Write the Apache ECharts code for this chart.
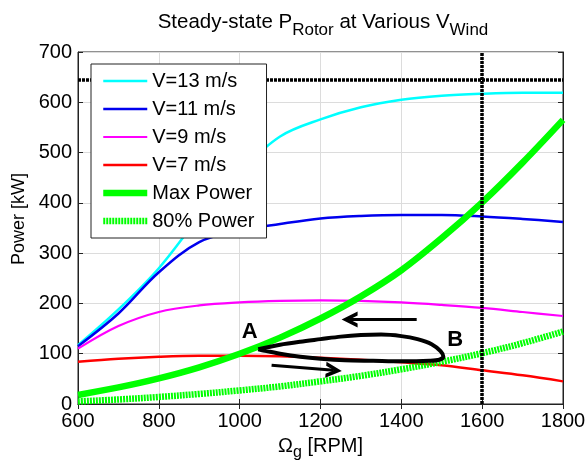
<!DOCTYPE html>
<html>
<head>
<meta charset="utf-8">
<script src="https://cdn.jsdelivr.net/npm/echarts@6/dist/echarts.min.js"></script>
<style>
  html, body { margin: 0; padding: 0; background: #fff; }
  #chart { width: 587px; height: 463px; }
</style>
</head>
<body>
<div id="chart"></div>
<script>
// rotor speed samples [RPM]
const rpm = [600, 700, 800, 900, 1000, 1100, 1200, 1300, 1400, 1500, 1600, 1700, 1800];

// steady-state rotor power [kW] per wind speed
const v13 = [117, 188, 270, 372, 462, 532, 566, 590, 605, 613, 617, 619, 619];
const v11 = [115, 180, 262, 322, 345, 358, 369, 374, 376, 376, 373, 368, 362];
const v9 = [110, 155, 183, 196, 202, 205, 206, 205, 202, 197, 191, 183, 175];
const v7 = [84, 90, 94, 96, 96, 95, 92, 88, 83, 77, 67, 57, 45];
const maxPower = [18, 33, 51, 73, 100, 132, 170, 214, 266, 330, 401, 480, 565];
const power80 = [5, 9, 14, 20, 27, 35, 45, 56, 69, 84, 101, 121, 144];

// limits
const powerLimit = 645;
const speedLimit = 1600;

// operating loop A -> B -> A
const loopRpm = [1046, 1100, 1150, 1200, 1250, 1300, 1350, 1400, 1440, 1475, 1497, 1504, 1494, 1470, 1400, 1330, 1260, 1200, 1150, 1100, 1062, 1046];
const loopKw = [109, 118, 124, 129, 134, 137, 138, 135, 129, 119, 105, 94, 88, 86, 85, 86, 87, 90, 94, 100, 106, 109];

// direction arrows [[x0, y0], [x1, y1]]
const arrowBack = [[1438, 168], [1272, 168]];
const arrowFwd = [[1079, 77], [1233, 67]];

// point labels
const pointLabels = [
    { name: 'A', value: [1025, 144] },
    { name: 'B', value: [1533, 127] },
];

const FONT = 'Liberation Sans, Arial, sans-serif';
// open arrow head, tip pointing up in its own frame
const CHEVRON = 'path://M10,0 L20,12 L15,12 L10,6 L5,12 L0,12 Z';

const zip = (xs, ys) => xs.map((x, i) => [x, ys[i]]);

function curve(name, values, color, width, dash) {
    return {
        name,
        type: 'line',
        data: zip(rpm, values),
        smooth: 0.35,
        symbol: 'none',
        lineStyle: { color, width, type: dash || 'solid', cap: 'butt' },
        itemStyle: { color },
        z: 3,
    };
}

const sub = (size, drop) => ({ fontSize: size, fontFamily: FONT, fontWeight: 'normal', color: '#000', padding: [drop * 2, 0, 0, 0] });
const txt = size => ({ fontSize: size, fontFamily: FONT, fontWeight: 'normal', color: '#000' });

const chart = echarts.init(document.getElementById('chart'), null, { renderer: 'canvas' });

chart.setOption({
    backgroundColor: '#fff',
    animation: false,
    textStyle: { fontFamily: FONT, color: '#000' },
    title: {
        text: '{n|Steady-state P}{s|Rotor}{n| at Various V}{s|Wind}',
        left: 318,
        top: 1,
        textAlign: 'center',
        textStyle: { fontWeight: 'normal', rich: { n: txt(20.5), s: sub(17, 8) } },
    },
    legend: {
        data: ['V=13 m/s', 'V=11 m/s', 'V=9 m/s', 'V=7 m/s', 'Max Power', '80% Power'],
        orient: 'vertical',
        left: 91,
        top: 64,
        padding: [7, 12, 7, 9],
        itemWidth: 44,
        itemHeight: 14,
        itemGap: 8,
        itemStyle: { opacity: 0 },
        lineStyle: { width: 'inherit' },
        backgroundColor: '#fff',
        borderColor: '#222',
        borderWidth: 1,
        textStyle: { fontSize: 20, fontFamily: FONT, color: '#000' },
        z: 10,
    },
    grid: {
        left: 78, right: 24, top: 52, bottom: 59,
        outerBoundsMode: 'none',
        show: true, borderColor: '#222', borderWidth: 1,
    },
    xAxis: [
        {
            type: 'value', min: 600, max: 1800, interval: 200,
            name: '{n|Ω}{s|g}{n| [RPM]}',
            nameLocation: 'middle',
            nameGap: 27,
            nameTextStyle: { rich: { n: txt(20), s: sub(16, 7) } },
            axisLine: { lineStyle: { color: '#222' } },
            axisTick: { inside: true, length: 5, lineStyle: { color: '#222' } },
            axisLabel: { fontSize: 20, color: '#000', margin: 7, formatter: v => String(v) },
            splitLine: { lineStyle: { color: '#dcdcdc' } },
        },
        {
            type: 'value', min: 600, max: 1800, interval: 200, position: 'top',
            axisLine: { lineStyle: { color: '#222' } },
            axisTick: { inside: true, length: 5, lineStyle: { color: '#222' } },
            axisLabel: { show: false },
            splitLine: { show: false },
        },
    ],
    yAxis: [
        {
            type: 'value', min: 0, max: 700, interval: 100,
            name: 'Power [kW]',
            nameLocation: 'middle',
            nameGap: 49,
            nameTextStyle: { fontSize: 18, fontFamily: FONT, color: '#000', padding: [0, 0, 0, 18] },
            axisLine: { show: true, lineStyle: { color: '#222' } },
            axisTick: { show: true, inside: true, length: 5, lineStyle: { color: '#222' } },
            axisLabel: { fontSize: 20, color: '#000', margin: 6 },
            splitLine: { lineStyle: { color: '#dcdcdc' } },
        },
        {
            type: 'value', min: 0, max: 700, interval: 100, position: 'right',
            axisLine: { show: true, lineStyle: { color: '#222' } },
            axisTick: { show: true, inside: true, length: 5, lineStyle: { color: '#222' } },
            axisLabel: { show: false },
            splitLine: { show: false },
        },
    ],
    series: [
        curve('V=13 m/s', v13, '#00ffff', 2.5),
        curve('V=11 m/s', v11, '#0000ee', 2.5),
        curve('V=9 m/s', v9, '#ff00ff', 2.2),
        curve('V=7 m/s', v7, '#ff0000', 2.5),
        curve('Max Power', maxPower, '#00ff00', 6.5),
        curve('80% Power', power80, '#00ff00', 6.5, [2, 1]),
        {
            name: 'limits',
            type: 'line',
            data: [],
            markLine: {
                silent: true,
                symbol: 'none',
                label: { show: false },
                lineStyle: { color: '#000', width: 3.5, type: [3, 1] },
                data: [{ yAxis: powerLimit }, { xAxis: speedLimit }],
            },
            z: 4,
        },
        {
            name: 'loop',
            type: 'line',
            data: zip(loopRpm, loopKw),
            smooth: 0.3,
            symbol: 'none',
            lineStyle: { color: '#000', width: 4 },
            z: 5,
        },
        {
            name: 'arrows',
            type: 'lines',
            coordinateSystem: 'cartesian2d',
            symbol: ['none', CHEVRON],
            symbolSize: [22, 16],
            lineStyle: { color: '#000', width: 3, opacity: 1 },
            itemStyle: { color: '#000' },
            data: [{ coords: arrowBack }, { coords: arrowFwd }],
            z: 5,
        },
        {
            name: 'points',
            type: 'scatter',
            data: pointLabels,
            symbolSize: 0,
            itemStyle: { opacity: 1, color: '#000' },
            label: {
                show: true,
                position: 'inside',
                formatter: p => p.name,
                fontSize: 22,
                fontWeight: 'bold',
                fontFamily: FONT,
                color: '#000',
                textBorderWidth: 0,
            },
            z: 6,
        },
    ],
});
</script>
</body>
</html>
